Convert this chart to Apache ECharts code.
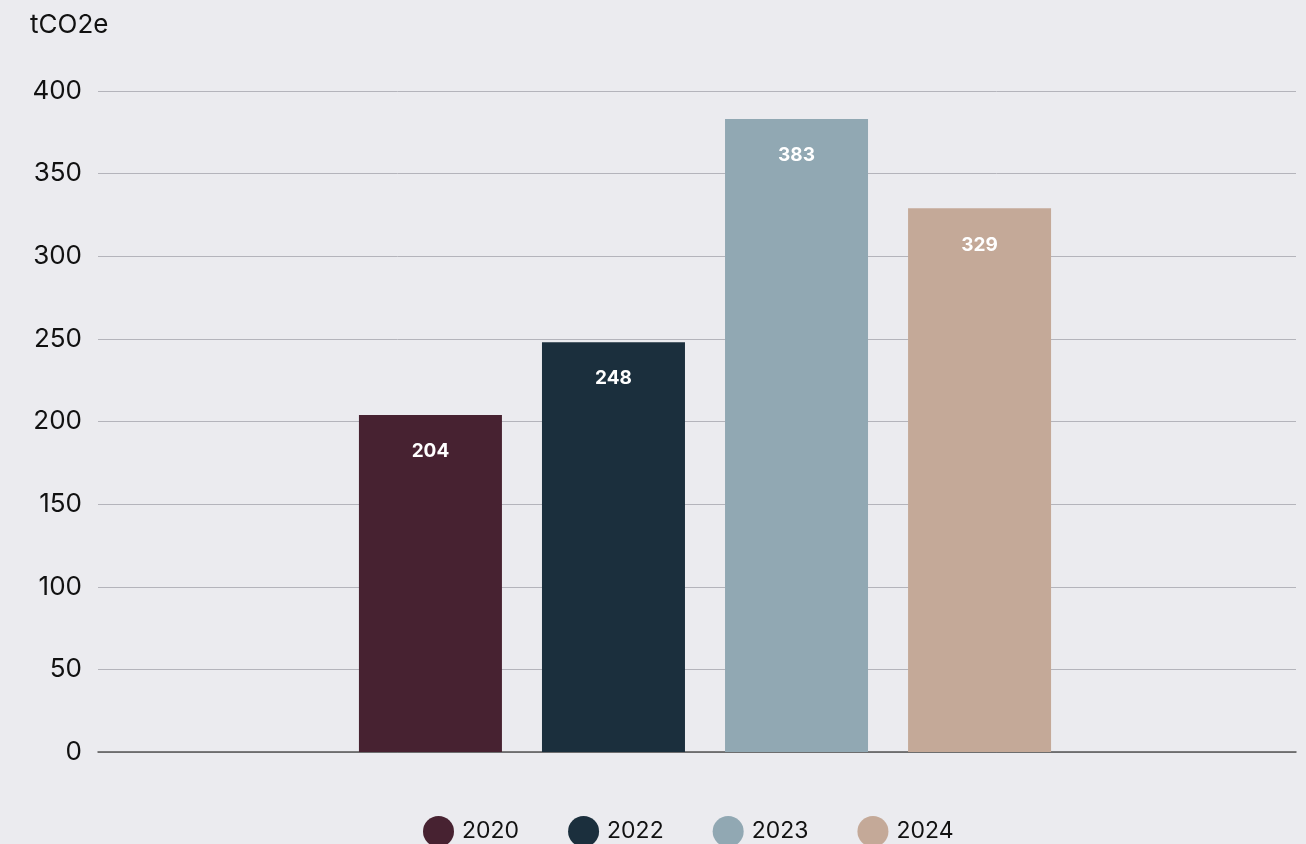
<!DOCTYPE html>
<html><head><meta charset="utf-8">
<script src="https://cdn.jsdelivr.net/npm/echarts@6/dist/echarts.min.js"></script>
<style>html,body{margin:0;padding:0;background:#ebebef;}#c{width:1306px;height:844px;}</style>
</head><body><div id="c"></div>
<script>
const categories = ['tCO2e'];
const seriesNames = ['2020', '2022', '2023', '2024'];
const seriesValues = [204, 248, 383, 329];
const colors = ['#472231', '#1b2f3d', '#91a8b3', '#c4a998'];
const yTicks = [0, 50, 100, 150, 200, 250, 300, 350, 400];

const chart = echarts.init(document.getElementById('c'));
const font = 'Inter, "Noto Sans", sans-serif';
const yMin = yTicks[0], yMax = yTicks[yTicks.length - 1];
chart.setOption({
  backgroundColor: '#ebebef',
  animation: false,
  textStyle: { fontFamily: font },
  grid: [
    { left: 98, right: 10, top: 91, bottom: 92 },
    { left: 106, right: 2, top: 91, bottom: 92 }
  ],
  legend: {
    bottom: -8, left: 418,
    icon: 'circle', itemWidth: 31, itemHeight: 31, itemGap: 49,
    textStyle: { fontSize: 23, color: '#111', fontFamily: font, padding: [0, 0, 0, 3] },
    data: seriesNames
  },
  xAxis: [{
    gridIndex: 0, type: 'category', data: categories,
    axisLine: { lineStyle: { color: '#555', width: 1.5 } },
    axisTick: { show: false }, axisLabel: { show: false }
  }, {
    gridIndex: 1, type: 'category', data: categories, show: false
  }],
  yAxis: [{
    gridIndex: 0, type: 'value', min: yMin, max: yMax, interval: 50,
    name: 'tCO2e', nameLocation: 'end', nameGap: 53,
    nameTextStyle: { fontSize: 26, color: '#111', align: 'left', padding: [0, 0, 0, -68] },
    axisLine: { show: false }, axisTick: { show: false },
    axisLabel: { fontSize: 26, color: '#111', margin: 16 },
    splitLine: { lineStyle: { color: '#b4b4bb', width: 1 } }
  }, {
    gridIndex: 1, type: 'value', min: yMin, max: yMax, interval: 50, show: false,
    splitLine: { show: false }
  }],
  series: seriesNames.map((n, i) => ({
    name: n, type: 'bar', data: [seriesValues[i]],
    xAxisIndex: 1, yAxisIndex: 1,
    barWidth: 143, barGap: '28%',
    itemStyle: { color: colors[i] },
    label: { show: true, position: 'insideTop', distance: 27, color: '#fff', fontSize: 19, fontWeight: 'bold', fontFamily: font }
  }))
});
</script></body></html>
